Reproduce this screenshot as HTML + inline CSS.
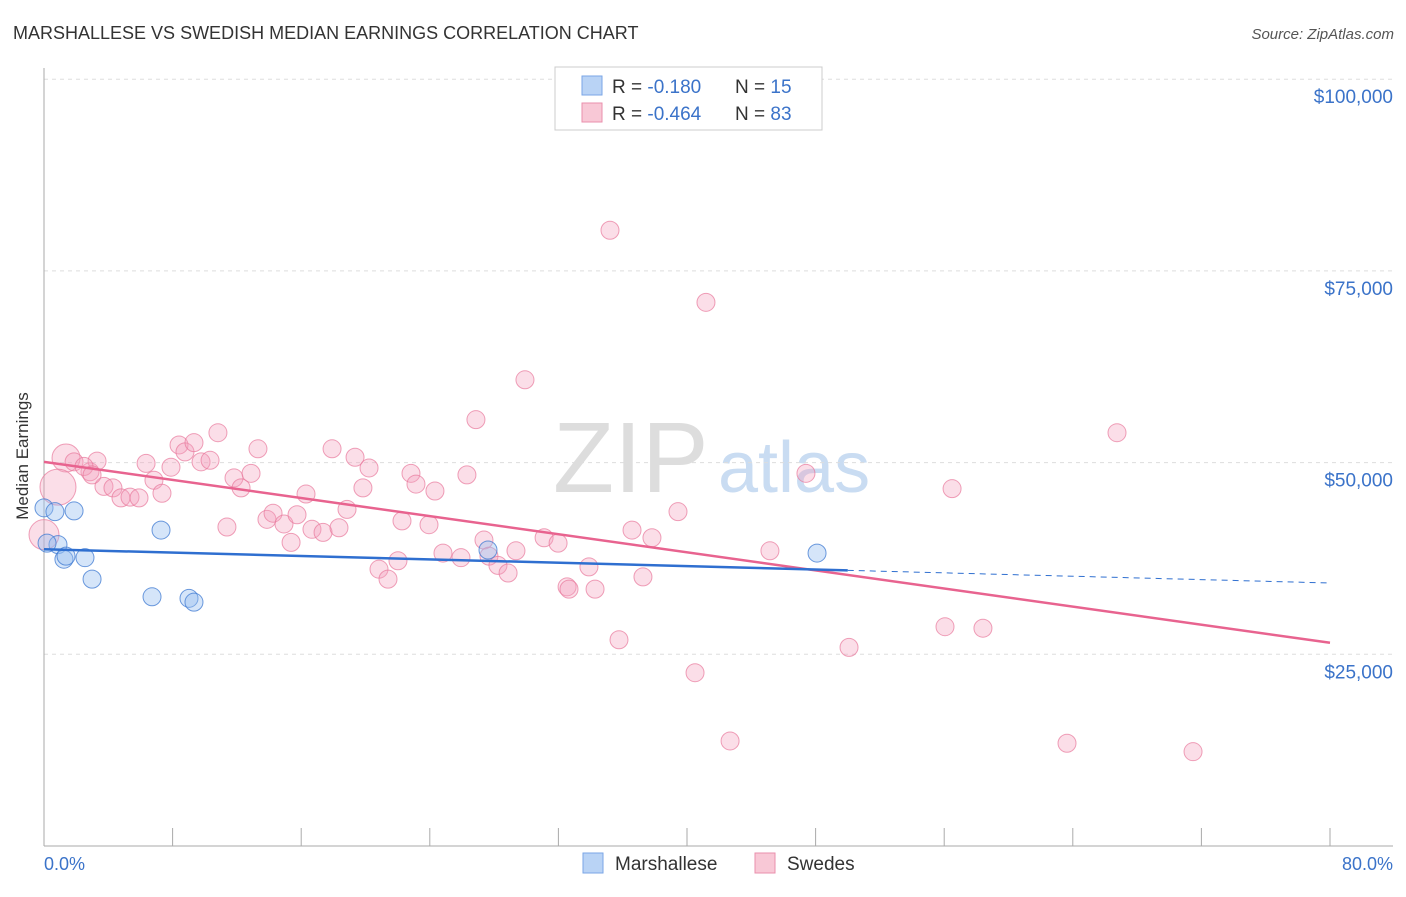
<!DOCTYPE html>
<html><head><meta charset="utf-8"><style>
body{margin:0;background:#fff;font-family:"Liberation Sans",sans-serif;}
svg text{font-family:"Liberation Sans",sans-serif;}
</style></head><body>
<svg width="1406" height="892" xmlns="http://www.w3.org/2000/svg">
<text x="13" y="39" font-size="18" fill="#333">MARSHALLESE VS SWEDISH MEDIAN EARNINGS CORRELATION CHART</text>
<text x="1394" y="39" font-size="15" fill="#555" font-style="italic" text-anchor="end">Source: ZipAtlas.com</text>
<g>
<text x="553" y="492" font-size="100" fill="#ddd" font-family="Liberation Serif">ZIP</text>
<text x="718" y="492" font-size="72" fill="#c9dcf2">atlas</text>
</g>
<g id="grid"></g>
<g id="axes"></g>
<g id="marks"></g>
<text x="28" y="456" font-size="17" fill="#333" transform="rotate(-90 28 456)" text-anchor="middle">Median Earnings</text>
<text x="44" y="870" font-size="18" fill="#3b73c9">0.0%</text>
<text x="1393" y="870" font-size="18" fill="#3b73c9" text-anchor="end">80.0%</text>
<g>
<rect x="555" y="67" width="267" height="63" fill="#fff" stroke="#ccc"/>
<rect x="582" y="76" width="20" height="19" fill="#b9d3f5" stroke="#7aa6e6"/>
<rect x="582" y="103" width="20" height="19" fill="#f8c8d6" stroke="#ea8fac"/>
<text x="612" y="93" font-size="19" fill="#333">R = <tspan fill="#3b73c9">-0.180</tspan><tspan x="735">N = </tspan><tspan fill="#3b73c9">15</tspan></text>
<text x="612" y="120" font-size="19" fill="#333">R = <tspan fill="#3b73c9">-0.464</tspan><tspan x="735">N = </tspan><tspan fill="#3b73c9">83</tspan></text>
</g>
<g>
<rect x="583" y="853" width="20" height="20" fill="#b9d3f5" stroke="#7aa6e6"/>
<text x="615" y="870" font-size="19" fill="#333">Marshallese</text>
<rect x="755" y="853" width="20" height="20" fill="#f8c8d6" stroke="#ea8fac"/>
<text x="787" y="870" font-size="19" fill="#333">Swedes</text>
</g>
</svg>
<script>
const yTicks=[25000,50000,75000,100000];
const yTickLabels=["$25,000","$50,000","$75,000","$100,000"];
const xTicks=[0,8,16,24,32,40,48,56,64,72,80];
const swedesX=[1.37,0.87,0,1.87,2.86,3.30,2.49,3.73,4.29,4.79,5.35,5.91,6.35,6.84,7.34,7.90,8.40,8.77,9.33,9.77,10.33,10.82,11.38,11.82,12.26,12.88,13.31,13.87,14.25,14.93,15.37,15.74,16.30,16.67,17.36,17.92,18.35,18.85,19.35,19.84,20.22,20.84,21.40,22.02,22.27,22.83,23.14,23.95,24.32,24.82,25.94,26.31,26.87,27.37,27.68,28.24,28.87,29.36,29.92,31.11,31.98,32.54,32.66,33.90,34.28,35.21,35.77,36.58,37.26,37.82,39.44,40.50,41.18,42.68,45.16,47.40,50.08,56.05,56.49,58.41,63.64,66.75,71.48,2.99];
const swedesY=[50600,46800,40600,50100,48800,50200,49500,46900,46700,45400,45500,45400,49900,47700,46000,49400,52300,51400,52600,50100,50300,53900,41600,48000,46700,48600,51800,42600,43400,42000,39600,43200,45900,41300,40900,51800,41500,43900,50700,46700,49300,36100,34800,37200,42400,48600,47200,41900,46300,38200,37600,48400,55600,39900,37800,36600,35600,38500,60800,40200,39500,33800,33500,36400,33500,80300,26900,41200,35100,40200,43600,22600,70900,13700,38500,48600,25900,28600,46600,28400,13400,53900,12300,48400];
const marshX=[0,0.68,1.87,0.87,1.24,1.37,2.55,2.99,6.72,7.28,9.02,9.33,27.62,48.09,0.19];
const marshY=[44100,43600,43700,39300,37400,37800,37600,34800,32500,41200,32300,31800,38600,38200,39500];
const swedesTrend=[50100,26500];   // value at x=0 and x=80
const marshTrend=[38700,34300];    // value at x=0 and x=80
const marshSolidEnd=50;
const X0=44,X1=1330,Y0=846,PX_PER=191.7/25000;
const sx=v=>X0+(v/80)*(X1-X0);
const sy=v=>Y0-v*PX_PER;
const NS="http://www.w3.org/2000/svg";
function mk(tag,attrs,parent){const e=document.createElementNS(NS,tag);for(const k in attrs)e.setAttribute(k,attrs[k]);parent.appendChild(e);return e;}
const grid=document.getElementById('grid'),axes=document.getElementById('axes'),marks=document.getElementById('marks');
yTicks.forEach((t,i)=>{
  const l=mk('line',{x1:X0,x2:1393,y1:sy(t),y2:sy(t),stroke:'#ddd','stroke-dasharray':'4,4'},grid);
  
  
  const tx=mk('text',{x:1393,y:sy(t)+24,'font-size':19,fill:'#3b73c9','text-anchor':'end'},grid);
  tx.textContent=yTickLabels[i];
  
  
});
const ya=mk('line',{x1:X0,x2:X0,y1:68,y2:Y0,stroke:'#aaa'},axes);


const xa=mk('line',{x1:X0,x2:1393,y1:Y0,y2:Y0,stroke:'#aaa'},axes);


xTicks.forEach(t=>{
  const l=mk('line',{x1:sx(t),x2:sx(t),y1:Y0,y2:Y0-18,stroke:'#aaa'},axes);
  
  
});
swedesX.forEach((x,i)=>{
  const r=i===0?14:(i===1?18:(i===2?15:9));
  const c=mk('circle',{cx:sx(x),cy:sy(swedesY[i]),r:r,fill:'rgba(244,160,188,0.35)',stroke:'rgba(232,120,155,0.7)','stroke-width':1},marks);
  
  
});
marshX.forEach((x,i)=>{
  const c=mk('circle',{cx:sx(x),cy:sy(marshY[i]),r:9,fill:'rgba(150,190,240,0.4)',stroke:'rgba(60,120,210,0.75)','stroke-width':1},marks);
  
  
});
const mAt=x=>marshTrend[0]+(marshTrend[1]-marshTrend[0])*x/80;
const pl=mk('line',{x1:sx(0),y1:sy(swedesTrend[0]),x2:sx(80),y2:sy(swedesTrend[1]),stroke:'#e8638f','stroke-width':2.5},marks);


const bl=mk('line',{x1:sx(0),y1:sy(mAt(0)),x2:sx(marshSolidEnd),y2:sy(mAt(marshSolidEnd)),stroke:'#2f6fd0','stroke-width':2.5},marks);


const bd=mk('line',{x1:sx(marshSolidEnd),y1:sy(mAt(marshSolidEnd)),x2:sx(80),y2:sy(mAt(80)),stroke:'#2f6fd0','stroke-width':1,'stroke-dasharray':'6,5'},marks);


</script>
</body></html>
